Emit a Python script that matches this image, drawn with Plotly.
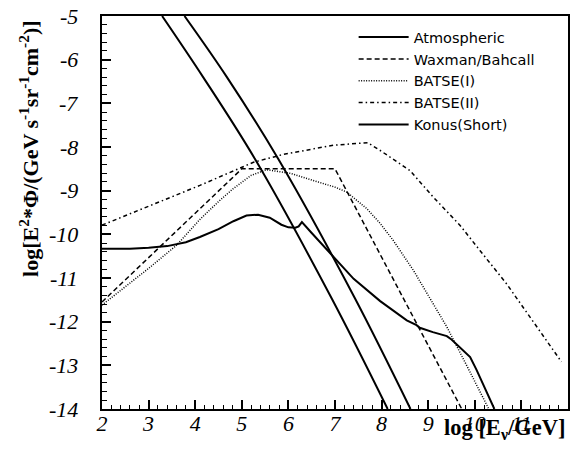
import plotly.graph_objects as go

# ---------------- data ----------------
atm_low_x = [3.29, 4.17, 5.28, 6.93, 8.13]
atm_low_y = [-5.0, -6.4, -8.27, -11.47, -14.0]
atm_up_x = [3.77, 4.68, 5.78, 7.43, 8.62]
atm_up_y = [-5.0, -6.4, -8.27, -11.47, -14.0]

wb_x = [2.0, 5.0, 7.0, 9.72]
wb_y = [-11.55, -8.5, -8.5, -14.0]

batse1_x = [2.0, 2.5, 3.0, 3.6, 4.1, 4.5, 4.82, 5.2, 5.53, 6.03, 6.5, 7.0, 7.25,
            7.68, 7.97, 8.25, 8.68, 9.4, 9.8, 10.3]
batse1_y = [-11.62, -11.2, -10.78, -10.25, -9.66, -9.25, -8.95, -8.65, -8.52, -8.60,
            -8.75, -8.92, -9.03, -9.41, -9.75, -10.14, -10.82, -12.12, -12.95, -14.0]

batse2_x = [2.0, 3.0, 4.1, 5.25, 5.89, 6.96, 7.7, 7.97, 8.61, 9.11, 9.68, 10.11,
            10.68, 11.26, 11.86]
batse2_y = [-9.79, -9.35, -8.88, -8.35, -8.17, -7.96, -7.90, -8.08, -8.54, -9.15,
            -9.79, -10.37, -11.13, -12.01, -12.92]

konus_x = [2.0, 2.6, 3.0, 3.4, 3.8, 4.1, 4.5, 4.82, 5.1, 5.35, 5.6, 5.85, 6.0, 6.15,
           6.22, 6.29, 6.5, 6.93, 7.4, 7.97, 8.4, 8.54, 8.75, 8.82, 9.1, 9.4, 9.5,
           9.9, 10.04, 10.42]
konus_y = [-10.33, -10.33, -10.31, -10.27, -10.18, -10.06, -9.88, -9.70, -9.57, -9.55,
           -9.62, -9.78, -9.84, -9.85, -9.82, -9.72, -9.97, -10.48, -11.02, -11.53,
           -11.86, -11.97, -12.08, -12.14, -12.24, -12.33, -12.41, -12.81, -13.11, -14.0]

y_ticks = [-5, -6, -7, -8, -9, -10, -11, -12, -13, -14]
y_labels = ["-5", "-6", "-7", "-8", "-9", "-10", "-11", "-12", "-13", "-14"]

# ---------------- figure ----------------
fig = go.Figure()

def add(x, y, name, dash, width, show=True, group=None, shape="linear"):
    fig.add_trace(go.Scatter(
        x=x, y=y, mode="lines", name=name, showlegend=show,
        legendgroup=group or name,
        line=dict(color="black", width=width, dash=dash, shape=shape),
        hoverinfo="skip"))

add(atm_low_x, atm_low_y, "Atmospheric", "solid", 2, group="atm", shape="spline")
add(wb_x, wb_y, "Waxman/Bahcall", "5px,3px", 1.5)
add(batse1_x, batse1_y, "BATSE(I)", "1px,1.5px", 1.5)
add(batse2_x, batse2_y, "BATSE(II)", "4px,3px,1.5px,3px", 1.5)
add(konus_x, konus_y, "Konus(Short)", "solid", 2)
add(atm_up_x, atm_up_y, "Atmospheric", "solid", 2, show=False, group="atm", shape="spline")

SERIF = "Liberation Serif"

fig.update_layout(
    width=578, height=456, autosize=False,
    margin=dict(l=102, r=10, t=16, b=47, pad=0),
    plot_bgcolor="white", paper_bgcolor="white",
    font=dict(family=SERIF, size=22, color="black"),
    showlegend=True,
    legend=dict(x=0.54, y=0.987, xanchor="left", yanchor="top",
                bgcolor="rgba(0,0,0,0)", borderwidth=0,
                font=dict(family="DejaVu Sans", size=14.5, color="black"),
                itemwidth=50, tracegroupgap=0),
    xaxis=dict(range=[2, 12], tickmode="linear", tick0=2, dtick=1,
               ticks="inside", ticklen=9, tickwidth=1.5, tickcolor="black",
               minor=dict(tickmode="linear", tick0=2, dtick=0.2, ticks="inside",
                          ticklen=4.5, tickwidth=1, tickcolor="black"),
               showline=True, linewidth=2, linecolor="black", mirror=True,
               showgrid=False, zeroline=False, automargin=False,
               ticklabelstandoff=-6,
               tickfont=dict(family=SERIF, size=22, color="black", style="italic")),
    yaxis=dict(range=[-14, -5], tickmode="linear", tick0=-14, dtick=1,
               ticks="inside", ticklen=9, tickwidth=1.5, tickcolor="black",
               minor=dict(tickmode="linear", tick0=-14, dtick=0.2, ticks="inside",
                          ticklen=4.5, tickwidth=1, tickcolor="black"),
               showticklabels=False,
               showline=True, linewidth=2, linecolor="black", mirror=True,
               showgrid=False, zeroline=False, automargin=False),
)

# y tick labels with a plain hyphen, placed on the y data scale
for v, lab in zip(y_ticks, y_labels):
    fig.add_annotation(text="<i>" + lab + "</i>", xref="paper", yref="y", x=-0.048, y=v,
                       xanchor="right", yanchor="middle", showarrow=False,
                       font=dict(family=SERIF, size=22, color="black"))

fig.add_annotation(
    text="log[E<sup>2</sup>*Φ/(GeV s<sup>-1</sup>sr<sup>-1</sup>cm<sup>-2</sup>)]",
    textangle=-90, xref="paper", yref="paper", x=-0.157, y=0.996,
    xanchor="center", yanchor="top", showarrow=False,
    font=dict(family=SERIF, size=22, color="black", weight="bold"))

fig.add_annotation(
    text="log [E<sub>ν</sub>/GeV]",
    xref="paper", yref="paper", x=0.998, y=-0.052,
    xanchor="right", yanchor="middle", showarrow=False,
    font=dict(family=SERIF, size=22.5, color="black", weight="bold"))

fig.write_html("out.html", config={"displayModeBar": False},
               post_script="document.body.style.margin='0';")
